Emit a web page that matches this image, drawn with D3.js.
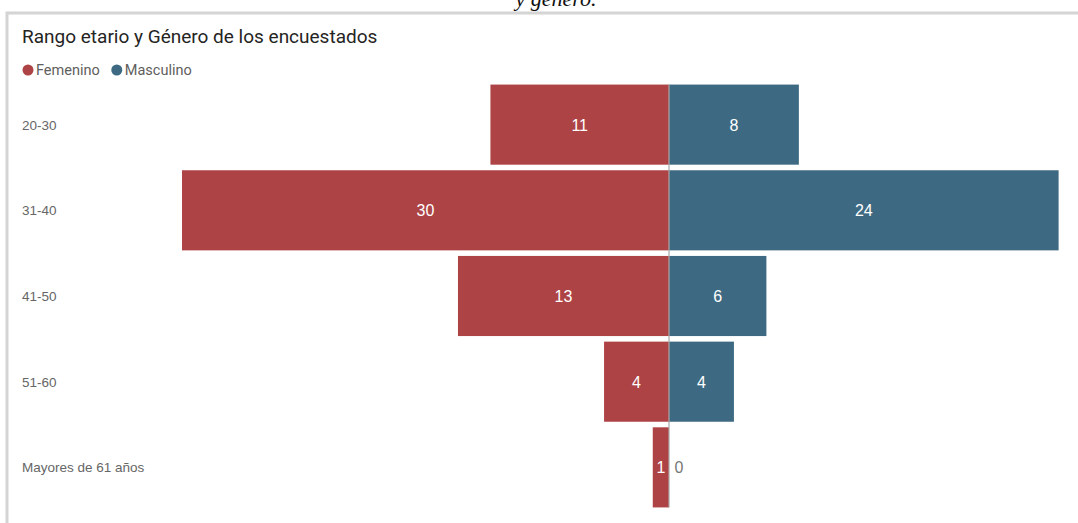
<!DOCTYPE html>
<html>
<head>
<meta charset="utf-8">
<script src="https://cdn.jsdelivr.net/npm/d3@7"></script>
<style>
  body { margin: 0; background: #fff; }
</style>
</head>
<body>
<svg id="chart" width="1078" height="523"></svg>
<script>
// data
var categories = ["20-30", "31-40", "41-50", "51-60", "Mayores de 61 años"]
var femenino = [11, 30, 13, 4, 1]
var masculino = [8, 24, 6, 4, 0]
var seriesNames = ["Femenino", "Masculino"]

var colors = { Femenino: "#ae4345", Masculino: "#3d6a82" }

var svg = d3.select("#chart")
var W = 1078, H = 523

// caption from the document, cut off at the top (as in the source picture)
svg.append("text")
  .attr("x", 556).attr("y", 6)
  .attr("text-anchor", "middle")
  .style("font-family", "Liberation Serif, serif")
  .style("font-style", "italic")
  .style("font-size", "22px")
  .style("fill", "#111")
  .text("y género.")

// card border
svg.append("rect")
  .attr("x", 7).attr("y", 13)
  .attr("width", W + 10).attr("height", H)
  .style("fill", "#fff")
  .style("stroke", "#d4d4d4")
  .style("stroke-width", 3)

// title
svg.append("text")
  .attr("x", 22).attr("y", 43)
  .style("font-family", "Roboto, sans-serif")
  .style("font-size", "19px")
  .style("fill", "#252423")
  .text("Rango etario y Género de los encuestados")

// legend
var legend = svg.append("g")
var lx = 28
seriesNames.forEach(function (name) {
  legend.append("circle")
    .attr("cx", lx).attr("cy", 70).attr("r", 5.5)
    .style("fill", colors[name])
  var t = legend.append("text")
    .attr("x", lx + 8).attr("y", 75)
    .style("font-family", "Roboto, sans-serif")
    .style("font-size", "14.5px")
    .style("fill", "#605e5c")
    .text(name)
  lx += 8 + t.node().getComputedTextLength() + 17
})

// scales
var center = 669
var xScale = d3.scaleLinear().domain([0, 30]).range([0, 487])
var yScale = d3.scaleBand().domain(categories).range([82, 510]).paddingInner(0.065).paddingOuter(0.03)

var rows = categories.map(function (c, i) {
  return { cat: c, f: femenino[i], m: masculino[i] }
})

// category labels
svg.append("g").selectAll("text")
  .data(rows).enter().append("text")
  .attr("x", 22)
  .attr("y", function (d) { return yScale(d.cat) + yScale.bandwidth() / 2 + 5 })
  .style("font-family", "Liberation Sans, Arial, sans-serif")
  .style("font-size", "13.5px")
  .style("fill", "#666")
  .text(function (d) { return d.cat })

// femenino bars (to the left)
svg.append("g").selectAll("rect")
  .data(rows).enter().append("rect")
  .attr("x", function (d) { return center - xScale(d.f) })
  .attr("y", function (d) { return yScale(d.cat) })
  .attr("width", function (d) { return xScale(d.f) })
  .attr("height", yScale.bandwidth())
  .style("fill", colors.Femenino)

// masculino bars (to the right)
svg.append("g").selectAll("rect")
  .data(rows).enter().append("rect")
  .attr("x", center)
  .attr("y", function (d) { return yScale(d.cat) })
  .attr("width", function (d) { return xScale(d.m) })
  .attr("height", yScale.bandwidth())
  .style("fill", colors.Masculino)

// center line
svg.append("line")
  .attr("x1", center).attr("x2", center)
  .attr("y1", yScale(categories[0])).attr("y2", yScale(categories[categories.length - 1]) + yScale.bandwidth())
  .style("stroke", "#a8a8a8")
  .style("stroke-width", 1.2)

// value labels
var labelStyle = function (sel) {
  sel.style("font-family", "Liberation Sans, Arial, sans-serif")
    .style("font-size", "16px")
    .attr("text-anchor", "middle")
}

svg.append("g").selectAll("text")
  .data(rows).enter().append("text")
  .call(labelStyle)
  .attr("x", function (d) { return center - xScale(d.f) / 2 })
  .attr("y", function (d) { return yScale(d.cat) + yScale.bandwidth() / 2 + 6 })
  .style("fill", "#fff")
  .text(function (d) { return d.f })

svg.append("g").selectAll("text")
  .data(rows).enter().append("text")
  .call(labelStyle)
  .attr("x", function (d) { return d.m > 0 ? center + xScale(d.m) / 2 : center + 10 })
  .attr("y", function (d) { return yScale(d.cat) + yScale.bandwidth() / 2 + 6 })
  .style("fill", function (d) { return d.m > 0 ? "#fff" : "#777" })
  .text(function (d) { return d.m })
</script>
</body>
</html>
